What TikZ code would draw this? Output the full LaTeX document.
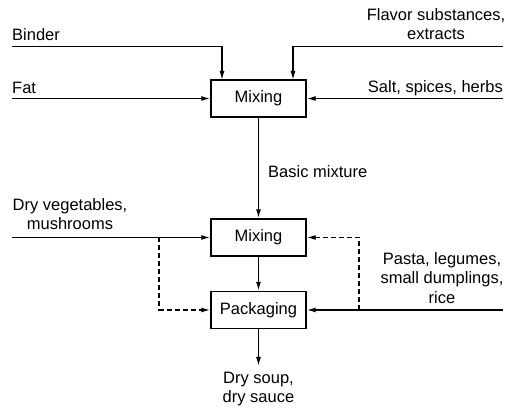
\documentclass[tikz,border=0pt]{standalone}
\usepackage{fontspec}
\setmainfont{Liberation Sans}
\usetikzlibrary{arrows.meta}
\begin{document}
\begin{tikzpicture}[x=1pt,y=-1pt,
  every node/.style={font=\fontsize{16.5}{19.5}\selectfont, inner sep=0pt},
  proc/.style={draw, line width=1.4pt, minimum width=95pt, minimum height=37pt},
  lbl/.style={align=center},
  flow/.style={line width=1.4pt, -{Latex[length=9pt,width=5pt]}},
  dflow/.style={flow, dash pattern=on 5pt off 3pt}]
\useasboundingbox (0,0) rectangle (514,411);
\node[proc] (m1) at (258.5,98.5) {Mixing};
\node[proc] (m2) at (258.5,237.5) {Mixing};
\node[proc] (pk) at (258.5,310) {Packaging};
% labels
\node[anchor=west] (binder) at (12,35) {Binder};
\node[anchor=west] (fat) at (12,88) {Fat};
\node[lbl] (flavor) at (436,24) {Flavor substances,\\extracts};
\node[anchor=east] (salt) at (503,88) {Salt, spices, herbs};
\node[anchor=west] (basic) at (268,172) {Basic mixture};
\node[lbl] (dryveg) at (70,214) {Dry vegetables,\\mushrooms};
\node[lbl] (pasta) at (442,278) {Pasta, legumes,\\small dumplings,\\rice};
\node[lbl] (out) at (258.5,389) {Dry soup,\\dry sauce};
% free ends
\coordinate (b0) at (12,46.5);
\coordinate (f0) at (503,46.5);
\coordinate (fa0) at (12,98.5);
\coordinate (s0) at (503,98.5);
\coordinate (d0) at (12,237.5);
\coordinate (dl) at (159,237.5);
\coordinate (p0) at (503,310);
\coordinate (pr) at (359,310);
\coordinate (o1) at (258.5,366);
% connectors
\draw[flow] (b0) -- (222,46.5) -- (222,80);
\draw[flow] (f0) -- (293,46.5) -- (293,80);
\draw[flow] (fa0) -- (m1.west);
\draw[flow] (s0) -- (m1.east);
\draw[flow] (m1.south) -- (m2.north);
\draw[flow] (d0) -- (m2.west);
\draw[flow] (m2.south) -- (pk.north);
\draw[flow] (p0) -- (pk.east);
\draw[dflow] (dl) -- (159,310) -- (pk.west);
\draw[dflow] (pr) -- (359,237.5) -- (m2.east);
\draw[flow] (pk.south) -- (o1);
\end{tikzpicture}
\end{document}
